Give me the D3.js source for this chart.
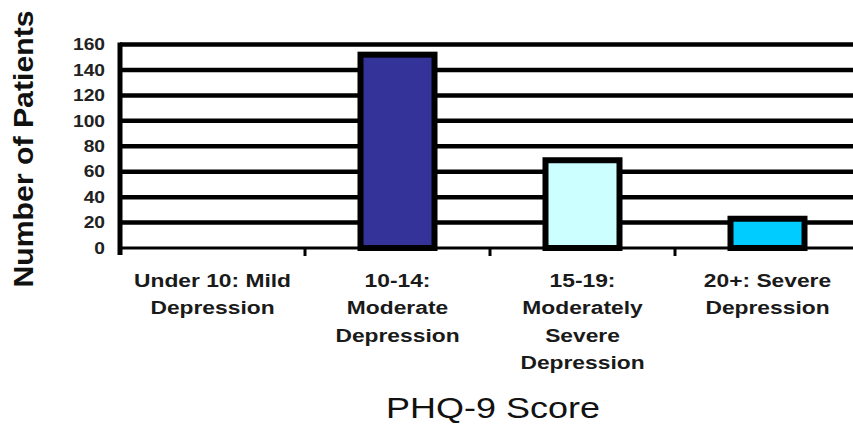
<!DOCTYPE html>
<html>
<head>
<meta charset="utf-8">
<script src="https://cdn.jsdelivr.net/npm/d3@7"></script>
<style>
  body { margin: 0; background: #fff; }
  svg { display: block; }
</style>
</head>
<body>
<div class="chart"></div>
<script>
// 데이터
const categories = [
  ['Under 10: Mild', 'Depression'],
  ['10-14:', 'Moderate', 'Depression'],
  ['15-19:', 'Moderately', 'Severe', 'Depression'],
  ['20+: Severe', 'Depression']
];
const patients = [0, 152, 69, 23];
const barColors = ['#333399', '#333399', '#CCFFFF', '#00CCFF'];
const yTicks = [0, 20, 40, 60, 80, 100, 120, 140, 160];

const W = 853, H = 427;
const Margin = {top: 44.5, bottom: 179, left: 120, right: -7};
const FontFamily = 'Liberation Sans, Arial, sans-serif';
const StretchX = 1.2; // 원본 글자가 가로로 늘어나 있음

const keys = categories.map((d, i) => i);
const xScale = d3.scaleBand(keys, [Margin.left, W - Margin.right]).paddingInner(0.6).paddingOuter(0.3);
const xOuter = d3.scaleBand(keys, [Margin.left, W - Margin.right]);
const yScale = d3.scaleLinear([0, 160], [H - Margin.bottom, Margin.top]);

const svg = d3.select('.chart')
  .append('svg')
  .attr('width', W)
  .attr('height', H);

// 눈금선
svg.append('g')
  .selectAll('line')
  .data(yTicks.filter(d => d > 0))
  .join('line')
    .attr('x1', Margin.left)
    .attr('x2', W)
    .attr('y1', d => yScale(d))
    .attr('y2', d => yScale(d))
    .attr('stroke', '#000')
    .attr('stroke-width', 4.5);

// 막대
svg.append('g')
  .selectAll('rect')
  .data(patients)
  .join('rect')
    .attr('x', (d, i) => xScale(i))
    .attr('y', d => yScale(d))
    .attr('width', xScale.bandwidth())
    .attr('height', d => yScale(0) - yScale(d))
    .attr('fill', (d, i) => barColors[i])
    .attr('stroke', '#000')
    .attr('stroke-width', d => d > 0 ? 6 : 0);

// y축 레이블
svg.append('g')
  .selectAll('text')
  .data(yTicks)
  .join('text')
    .attr('transform', d => `translate(105, ${yScale(d)}) scale(${StretchX}, 1)`)
    .attr('dy', '0.36em')
    .attr('text-anchor', 'end')
    .attr('font-family', FontFamily)
    .attr('font-size', '16px')
    .attr('font-weight', 'bold')
    .attr('fill', '#222')
    .text(d => d);

// y축 선
svg.append('line')
  .attr('x1', Margin.left).attr('x2', Margin.left)
  .attr('y1', yScale(160) - 2).attr('y2', yScale(0) + 7)
  .attr('stroke', '#000').attr('stroke-width', 5);

// x축
svg.append('line')
  .attr('x1', Margin.left).attr('x2', W)
  .attr('y1', yScale(0)).attr('y2', yScale(0))
  .attr('stroke', '#000').attr('stroke-width', 3);

svg.append('g')
  .selectAll('line')
  .data(keys.slice(1))
  .join('line')
    .attr('x1', d => xOuter(d))
    .attr('x2', d => xOuter(d))
    .attr('y1', yScale(0))
    .attr('y2', yScale(0) + 8)
    .attr('stroke', '#000')
    .attr('stroke-width', 3);

// x축 레이블
svg.append('g')
  .selectAll('text')
  .data(categories)
  .join('text')
    .attr('transform', (d, i) => `translate(${xOuter(i) + xOuter.bandwidth() / 2}, 0) scale(${StretchX}, 1)`)
    .attr('text-anchor', 'middle')
    .attr('font-family', FontFamily)
    .attr('font-size', '19px')
    .attr('font-weight', 'bold')
    .attr('fill', '#1a1a1a')
  .selectAll('tspan')
  .data(d => d)
  .join('tspan')
    .attr('x', 0)
    .attr('y', (d, j) => 287 + j * 27.5)
    .text(d => d);

// 축 제목
svg.append('text')
  .attr('transform', `translate(${(Margin.left + W - Margin.right) / 2 + 3}, 418) scale(1.24, 1)`)
  .attr('text-anchor', 'middle')
  .attr('font-family', FontFamily)
  .attr('font-size', '29px')
  .attr('fill', '#111')
  .text('PHQ-9 Score');

svg.append('text')
  .attr('transform', `translate(33, 149) rotate(-90) scale(1.08, 1)`)
  .attr('text-anchor', 'middle')
  .attr('font-family', FontFamily)
  .attr('font-size', '28px')
  .attr('font-weight', 'bold')
  .attr('fill', '#111')
  .text('Number of Patients');
</script>
</body>
</html>
